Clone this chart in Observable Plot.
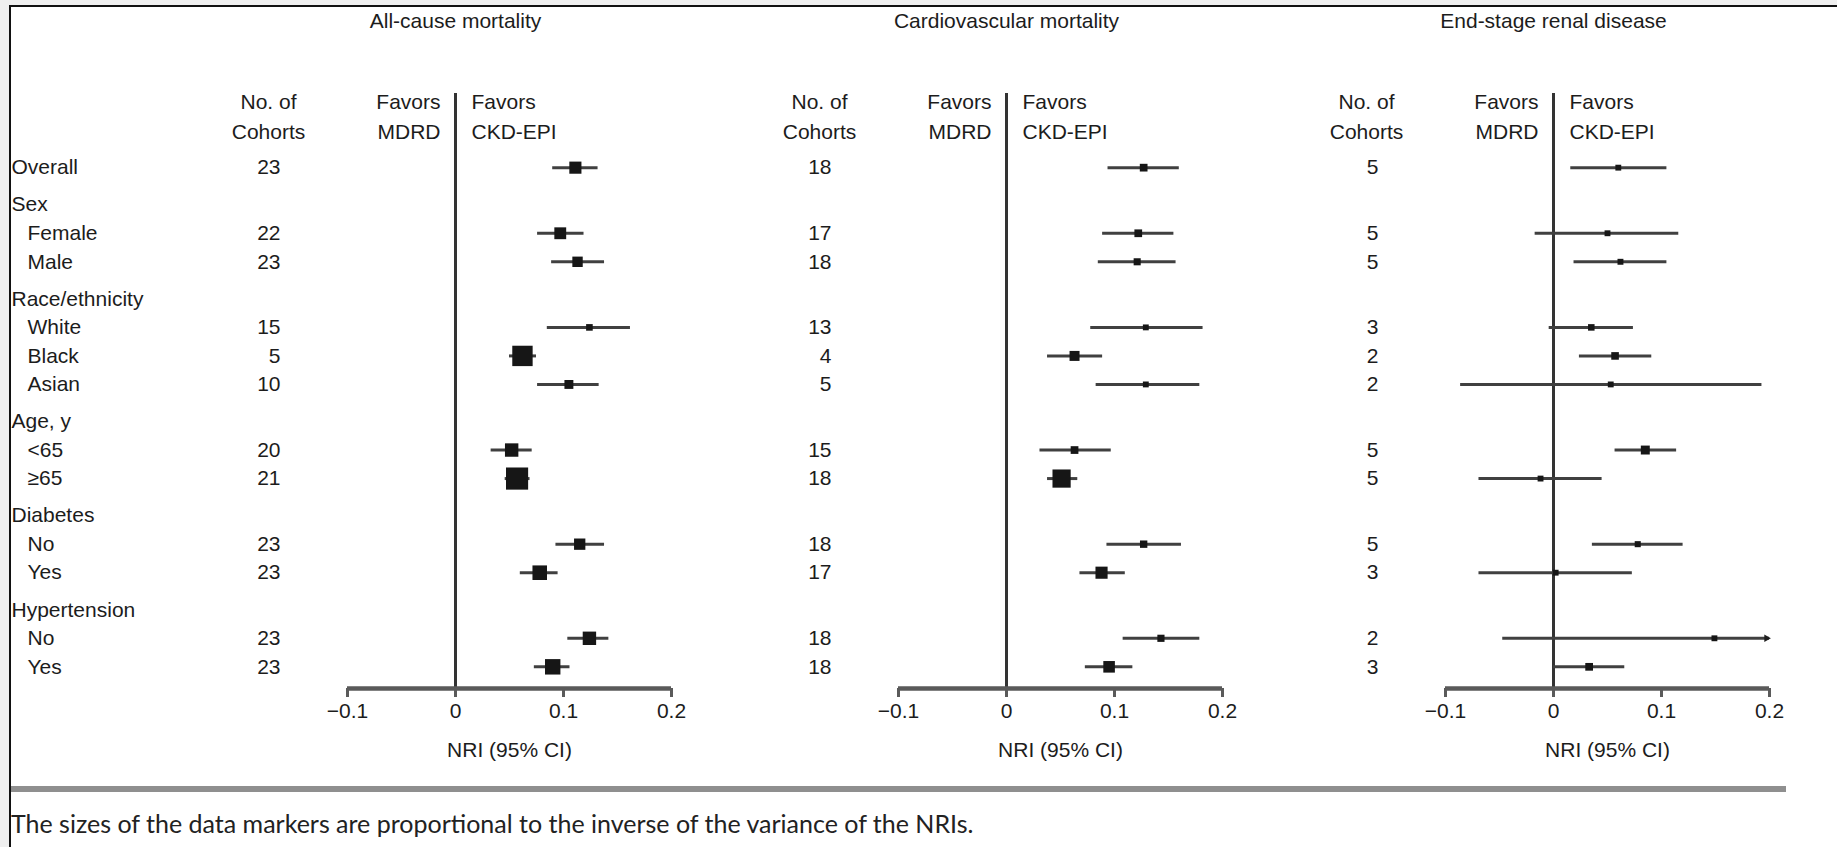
<!DOCTYPE html>
<html>
<head>
<meta charset="utf-8">
<script src="https://cdn.jsdelivr.net/npm/d3@7"></script>
<script src="https://cdn.jsdelivr.net/npm/@observablehq/plot@0.6"></script>
<style>
  html, body { margin: 0; padding: 0; background: #efefef; }
  body { width: 1837px; height: 847px; position: relative; overflow: hidden; }
  #sheet { position: absolute; left: 9px; top: 5px; right: 0; bottom: 0; background: #fff;
           border-top: 2px solid #111; border-left: 2px solid #111; }
  .panel { position: absolute; top: 7px; }
  .panel svg { overflow: visible; }
  #rule { position: absolute; left: 11px; top: 786px; width: 1775px; height: 6px; background: #8f8f8f; }
  #caption { position: absolute; left: 11px; top: 808px; font-family: Lato, "Open Sans", sans-serif;
             font-size: 25px; line-height: 30px; color: #222; white-space: nowrap; }
</style>
</head>
<body>
<div id="sheet"></div>
<div id="p0" class="panel" style="left:11px"></div>
<div id="p1" class="panel" style="left:700px"></div>
<div id="p2" class="panel" style="left:1250px"></div>
<div id="rule"></div>
<div id="caption">The sizes of the data markers are proportional to the inverse of the variance of the NRIs.</div>
<script>
// Outcomes (one panel each)
const outcomes = ["All-cause mortality", "Cardiovascular mortality", "End-stage renal disease"];

// Subgroup rows and the heading each one sits under
const rowGroups = ["", "Sex", "Sex", "Race/ethnicity", "Race/ethnicity", "Race/ethnicity",
                   "Age, y", "Age, y", "Diabetes", "Diabetes", "Hypertension", "Hypertension"];
const rowLabels = ["Overall", "Female", "Male", "White", "Black", "Asian",
                   "<65", "≥65", "No", "Yes", "No", "Yes"];

// All-cause mortality: cohorts, NRI and 95% CI
const allCauseCohorts = [23, 22, 23, 15, 5, 10, 20, 21, 23, 23, 23, 23];
const allCauseNri  = [0.111, 0.097, 0.113, 0.124, 0.062, 0.105, 0.052, 0.057, 0.115, 0.078, 0.124, 0.090];
const allCauseLow  = [0.090, 0.076, 0.089, 0.085, 0.050, 0.076, 0.033, 0.046, 0.093, 0.060, 0.104, 0.073];
const allCauseHigh = [0.132, 0.119, 0.138, 0.162, 0.075, 0.133, 0.071, 0.069, 0.138, 0.095, 0.142, 0.106];

// Cardiovascular mortality
const cardioCohorts = [18, 17, 18, 13, 4, 5, 15, 18, 18, 17, 18, 18];
const cardioNri  = [0.127, 0.122, 0.121, 0.129, 0.063, 0.129, 0.063, 0.051, 0.127, 0.088, 0.143, 0.095];
const cardioLow  = [0.094, 0.089, 0.085, 0.078, 0.038, 0.083, 0.031, 0.038, 0.093, 0.068, 0.108, 0.073];
const cardioHigh = [0.160, 0.155, 0.157, 0.182, 0.089, 0.179, 0.097, 0.066, 0.162, 0.110, 0.179, 0.117];

// End-stage renal disease
const esrdCohorts = [5, 5, 5, 3, 2, 2, 5, 5, 5, 3, 2, 3];
const esrdNri  = [0.060, 0.050, 0.062, 0.035, 0.057, 0.053, 0.085, -0.012, 0.078, 0.002, 0.149, 0.033];
const esrdLow  = [0.016, -0.017, 0.019, -0.004, 0.024, -0.086, 0.057, -0.069, 0.036, -0.069, -0.047, 0.000];
const esrdHigh = [0.105, 0.116, 0.105, 0.074, 0.091, 0.193, 0.114, 0.045, 0.120, 0.073, 0.340, 0.066];

const xTicks = [-0.1, 0, 0.1, 0.2];

const series = [
  [allCauseCohorts, allCauseNri, allCauseLow, allCauseHigh],
  [cardioCohorts, cardioNri, cardioLow, cardioHigh],
  [esrdCohorts, esrdNri, esrdLow, esrdHigh]
];

// Vertical layout in row units: one unit per subgroup, a little extra before each heading
const headings = [];
const rowPos = [];
{
  let pos = 0, prev = "";
  rowLabels.forEach((label, i) => {
    const g = rowGroups[i];
    if (i > 0) pos += 1;
    if (g && g !== prev) { headings.push({label: g, pos: pos + 0.3}); pos += 1.3; }
    rowPos.push(pos);
    prev = g;
  });
}
const yTop = -2.6;
const yBottom = rowPos[rowPos.length - 1] + 0.76;

// Marker weight: inverse of the variance implied by the 95% CI
const tables = series.map(([n, est, lo, hi]) => rowLabels.map((label, i) => {
  const se = (hi[i] - lo[i]) / 3.92;
  return {label, indent: rowGroups[i] !== "", pos: rowPos[i], n: n[i], nri: est[i],
          lo: lo[i], hi: hi[i], w: 1 / (se * se)};
}));
const wMax = d3.max(tables.flat(), d => d.w);
const wFloor = 0.07 * wMax; // keeps the least precise estimates visible

const font = "'Liberation Sans', Arial, Helvetica, sans-serif";
const ink = "#1c1c1c";
const fs = 21;
const xMin = d3.min(xTicks), xMax = d3.max(xTicks);
const tickFormat = d => (d < 0 ? "\u2212" : "") + Math.abs(d);

const geometry = [
  {width: 689, marginLeft: 336, marginRight: 29, labels: true},
  {width: 550, marginLeft: 198, marginRight: 28, labels: false},
  {width: 587, marginLeft: 195, marginRight: 68, labels: false}
];

const height = 770, marginTop = 86, marginBottom = 89;

outcomes.forEach((title, k) => {
  const g = geometry[k];
  const rows = tables[k];
  const clipped = rows.filter(d => d.hi > xMax);
  const marks = [
    // zero line
    Plot.ruleX([0], {stroke: "#333", strokeWidth: 3}),
    // x axis line and ticks
    Plot.ruleY([yBottom], {stroke: "#5a5a5a", strokeWidth: 4.5}),
    Plot.axisX({ticks: xTicks, tickFormat, tickSize: 9, tickPadding: 6, stroke: "#5a5a5a",
                strokeWidth: 3, fill: ink, fontSize: fs, label: null}),
    Plot.text(["NRI (95% CI)"], {frameAnchor: "bottom", lineAnchor: "middle", dy: 62,
                                 fill: ink, fontSize: fs}),
    // titles and column headings
    Plot.text([title], {x: [0], frameAnchor: "top", lineAnchor: "middle", dy: -72,
                        fill: ink, fontSize: fs}),
    Plot.text(["No. of\nCohorts"], {frameAnchor: "top-left", dx: -79, dy: 21, lineHeight: 1.4,
                                   textAnchor: "middle", lineAnchor: "middle", fill: ink, fontSize: fs}),
    Plot.text(["Favors\nMDRD"], {x: [0], frameAnchor: "top", dx: -15, dy: 21, lineHeight: 1.4,
                                textAnchor: "end", lineAnchor: "middle", fill: ink, fontSize: fs}),
    Plot.text(["Favors\nCKD-EPI"], {x: [0], frameAnchor: "top", dx: 16, dy: 21, lineHeight: 1.4,
                                   textAnchor: "start", lineAnchor: "middle", fill: ink, fontSize: fs}),
    // cohort counts
    Plot.text(rows, {y: "pos", text: "n", frameAnchor: "left", dx: -67, textAnchor: "end",
                     fill: ink, fontSize: fs}),
    // confidence intervals, cut at the axis end with an arrowhead when they run past it
    Plot.ruleY(rows, {y: "pos", x1: "lo", x2: d => Math.min(d.hi, xMax), stroke: "#404040", strokeWidth: 3}),
    Plot.dot(clipped, {x: () => xMax, y: "pos", dx: -3, symbol: "triangle2", rotate: 90, r: 3.6,
                       fill: "#1e1e1e", stroke: null}),
    // point estimates
    Plot.dot(rows, {x: "nri", y: "pos", r: d => Math.max(d.w, wFloor), symbol: "square",
                    fill: "#161616", stroke: null})
  ];
  if (g.labels) {
    marks.push(
      Plot.text(headings, {y: "pos", text: "label", frameAnchor: "left", dx: -g.marginLeft,
                           textAnchor: "start", fill: ink, fontSize: fs}),
      Plot.text(rows.filter(d => !d.indent), {y: "pos", text: "label", frameAnchor: "left",
                           dx: -g.marginLeft, textAnchor: "start", fill: ink, fontSize: fs}),
      Plot.text(rows.filter(d => d.indent), {y: "pos", text: "label", frameAnchor: "left",
                           dx: -g.marginLeft + 16, textAnchor: "start", fill: ink, fontSize: fs})
    );
  }
  const chart = Plot.plot({
    width: g.width,
    height,
    marginLeft: g.marginLeft,
    marginRight: g.marginRight,
    marginTop,
    marginBottom,
    style: {fontFamily: font, fontSize: fs + "px", color: ink, background: "transparent", overflow: "visible"},
    x: {domain: [xMin, xMax], axis: null},
    y: {domain: [yTop, yBottom], reverse: true, axis: null},
    r: {type: "sqrt", domain: [0, wMax], range: [0, 12.5]},
    marks
  });
  document.getElementById("p" + k).appendChild(chart);
});
</script>
</body>
</html>
